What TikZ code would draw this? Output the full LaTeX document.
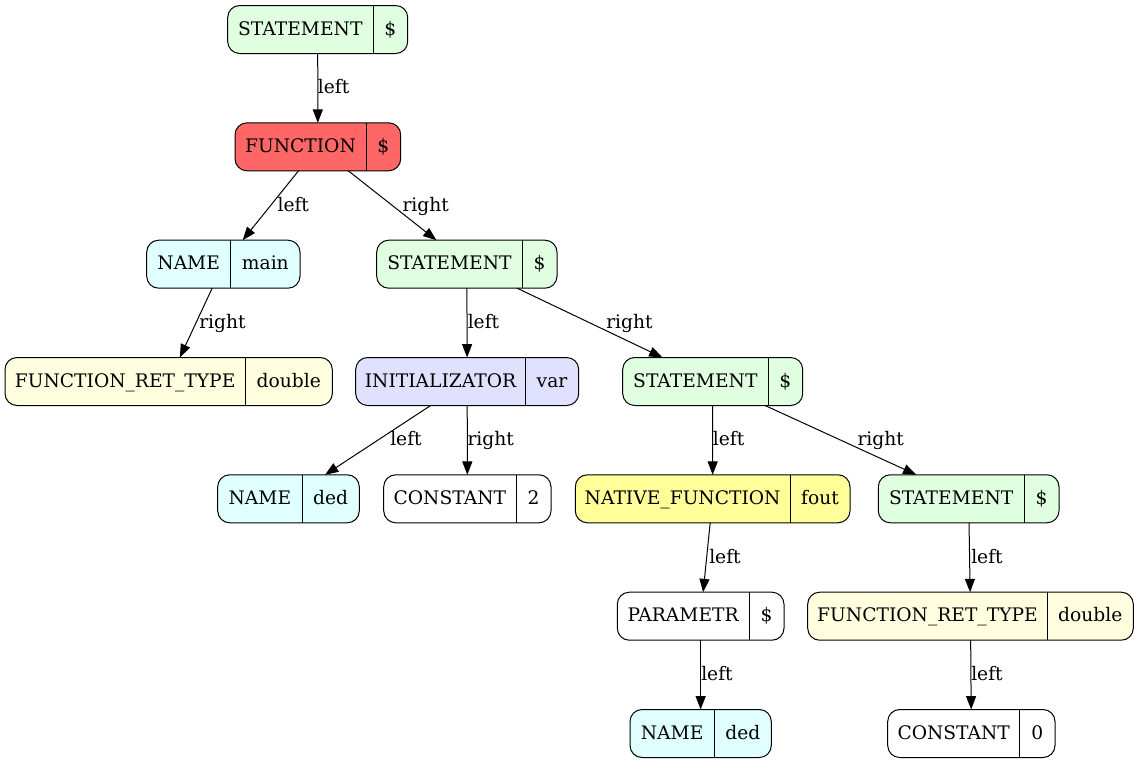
\documentclass[tikz,border=0pt]{standalone}
\usepackage{fontspec}
\setmainfont{DejaVu Serif}
\usetikzlibrary{arrows.meta}
\definecolor{cStmt}{HTML}{E0FFE0}
\definecolor{cFunc}{HTML}{FF6666}
\definecolor{cName}{HTML}{E0FFFF}
\definecolor{cFrt}{HTML}{FFFFE0}
\definecolor{cInit}{HTML}{E0E0FF}
\definecolor{cNat}{HTML}{FFFF99}
\tikzset{
 recbox/.style={draw=black, line width=0.75pt, rounded corners=9pt, minimum height=36pt, inner sep=0pt, outer sep=0pt},
 rectext/.style={anchor=base, inner sep=0pt, font=\fontsize{14pt}{16pt}\selectfont},
 recdiv/.style={draw=black, line width=0.75pt},
 edge/.style={draw=black, line width=0.75pt, -{Triangle[length=10pt,width=7.5pt]}},
 elabel/.style={anchor=base west, inner sep=0pt, font=\fontsize{14pt}{16pt}\selectfont},
}
\newcommand\recnode[8]{%
 \pgfmathsetmacro\rw{(#4-#2)*0.75}%
 \pgfmathsetmacro\rcx{(#2+#4)/2}%
 \node[recbox, fill=#6, minimum width=\rw pt] (#1) at (\rcx,#5) {};
 \draw[recdiv] (#3,#5-24) -- (#3,#5+24);
 \node[rectext] (#1a) at ({(#2+#3)/2},#5+5.5) {#7};
 \node[rectext] (#1b) at ({(#3+#4)/2},#5+5.5) {#8};
}
\begin{document}
\begin{tikzpicture}[x=0.75pt,y=-0.75pt]
\useasboundingbox[fill=white] (0,0) rectangle (1140,764);
\def\ra{29.5}\def\rb{146.8}\def\rc{264.2}\def\rd{381.5}\def\re{498.8}\def\rf{616.2}\def\rg{733.5}
\recnode{n1}{227.7}{373}{407.7}{\ra}{cStmt}{STATEMENT}{\$}
\recnode{n2}{235}{366}{400.7}{\rb}{cFunc}{FUNCTION}{\$}
\recnode{n3}{146.7}{230.7}{300}{\rc}{cName}{NAME}{main}
\recnode{n4}{376.7}{522.3}{557}{\rc}{cStmt}{STATEMENT}{\$}
\recnode{n5}{5}{245.3}{332.3}{\rd}{cFrt}{FUNCTION\_RET\_TYPE}{double}
\recnode{n6}{355.7}{525.3}{578.7}{\rd}{cInit}{INITIALIZATOR}{var}
\recnode{n7}{622.7}{768}{802.7}{\rd}{cStmt}{STATEMENT}{\$}
\recnode{n8}{217.7}{302}{359.3}{\re}{cName}{NAME}{ded}
\recnode{n9}{383.7}{516}{551}{\re}{white}{CONSTANT}{2}
\recnode{n10}{575.3}{790}{850}{\re}{cNat}{NATIVE\_FUNCTION}{fout}
\recnode{n11}{878.3}{1024}{1059}{\re}{cStmt}{STATEMENT}{\$}
\recnode{n12}{617.3}{749}{784}{\rf}{white}{PARAMETR}{\$}
\recnode{n13}{807.7}{1047.3}{1133.3}{\rf}{cFrt}{FUNCTION\_RET\_TYPE}{double}
\recnode{n14}{630}{714.3}{771.3}{\rg}{cName}{NAME}{ded}
\recnode{n15}{887.7}{1019.7}{1055}{\rg}{white}{CONSTANT}{0}
% edges
\draw[edge] (n1) -- (n2);
\draw[edge] (n2) -- (n3);
\draw[edge] (n2) -- (n4);
\draw[edge] (n3) -- (n5);
\draw[edge] (n4) -- (n6);
\draw[edge] (n4) -- (n7);
\draw[edge] (n6) -- (n8);
\draw[edge] (n6) -- (n9);
\draw[edge] (n7) -- (n10);
\draw[edge] (n7) -- (n11);
\draw[edge] (n10) -- (n12);
\draw[edge] (n11) -- (n13);
\draw[edge] (n12) -- (n14);
\draw[edge] (n13) -- (n15);
% labels
\node[elabel] (l12) at (317.7,93.7) {left};
\node[elabel] (l23) at (277.3,211) {left};
\node[elabel] (l24) at (402.3,211) {right};
\node[elabel] (l35) at (199,328.4) {right};
\node[elabel] (l46) at (467.5,328.4) {left};
\node[elabel] (l47) at (606,328.4) {right};
\node[elabel] (l68) at (390,445.7) {left};
\node[elabel] (l69) at (467.3,445.7) {right};
\node[elabel] (l710) at (712.7,445.7) {left};
\node[elabel] (l711) at (857.3,445.7) {right};
\node[elabel] (l1012) at (709,563) {left};
\node[elabel] (l1113) at (971,563) {left};
\node[elabel] (l1214) at (701,680.4) {left};
\node[elabel] (l1315) at (971,680.4) {left};
\end{tikzpicture}
\end{document}
